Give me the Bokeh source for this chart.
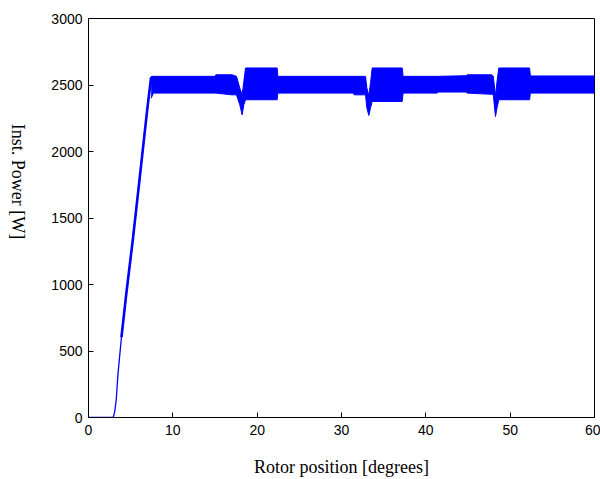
import math
from bokeh.plotting import figure
from bokeh.layouts import row
from bokeh.models import Range1d, Label, FixedTicker
from bokeh.embed import file_html
from bokeh.resources import INLINE

# Start-up ramp (rotor position in degrees, power in W)
ramp_x = [0.0, 2.93, 3.1, 3.28, 3.5, 3.91, 4.5, 5.25, 6.0, 6.96, 7.43]
ramp_y = [0, 0, 40, 128, 330, 605, 940, 1334, 1760, 2313, 2560]

# Envelope of the high-frequency ripple after the ramp
env_x = [7.43, 7.7, 15.0, 15.1, 17.0, 17.55, 17.94, 18.22, 18.42, 18.62,
         22.37, 22.45, 31.4, 31.5, 32.85, 33.0, 33.24, 33.45, 33.64, 37.2,
         37.3, 41.35, 41.45, 44.8, 44.9, 47.8, 48.0, 48.26, 48.45, 48.65,
         52.3, 52.4, 60.0]
env_upper = [2565, 2565, 2565, 2577, 2577, 2565, 2477, 2426, 2527, 2628,
             2628, 2565, 2565, 2565, 2565, 2480, 2420, 2520, 2628, 2628,
             2565, 2565, 2565, 2570, 2577, 2577, 2565, 2420, 2530, 2628,
             2628, 2568, 2568]
env_lower = [2400, 2439, 2439, 2439, 2426, 2426, 2351, 2276, 2351, 2389,
             2389, 2439, 2439, 2426, 2426, 2330, 2271, 2330, 2376, 2376,
             2439, 2439, 2447, 2447, 2439, 2430, 2426, 2263, 2330, 2389,
             2389, 2439, 2439]

x_ticks = [0, 10, 20, 30, 40, 50, 60]
y_ticks = [0, 500, 1000, 1500, 2000, 2500, 3000]

BLUE = "#0000FF"
LEFT_W = 34

p = figure(width=600 - LEFT_W, height=479, output_backend="svg",
           toolbar_location=None,
           x_range=Range1d(0, 60), y_range=Range1d(0, 3000),
           min_border_left=88 - LEFT_W, min_border_right=6, min_border_top=18,
           min_border_bottom=62)
p.xgrid.visible = False
p.ygrid.visible = False
p.outline_line_color = "black"
p.outline_line_width = 1
p.background_fill_color = "white"
p.border_fill_color = "white"

p.line(ramp_x, ramp_y, line_color=BLUE, line_width=1.3)
p.line(ramp_x[5:], ramp_y[5:], line_color=BLUE, line_width=2.6)
p.varea(x=env_x, y1=env_lower, y2=env_upper, fill_color=BLUE)
p.line(env_x, env_upper, line_color=BLUE, line_width=1)
p.line(env_x, env_lower, line_color=BLUE, line_width=1)

for ax, ticks in ((p.xaxis[0], x_ticks), (p.yaxis[0], y_ticks)):
    ax.ticker = FixedTicker(ticks=ticks)
    ax.minor_tick_line_color = None
    ax.major_tick_in = 5
    ax.major_tick_out = 0
    ax.major_tick_line_color = "black"
    ax.axis_line_color = "black"
    ax.major_label_text_font = "Liberation Sans"
    ax.major_label_text_font_size = "14px"
    ax.major_label_text_color = "black"

p.xaxis.major_label_standoff = 7
p.yaxis.major_label_standoff = 6
p.xaxis.axis_label = "Rotor position [degrees]"
p.xaxis.axis_label_text_font = "Liberation Serif"
p.xaxis.axis_label_text_font_size = "18px"
p.xaxis.axis_label_text_font_style = "normal"
p.xaxis.axis_label_text_color = "black"
p.xaxis.axis_label_standoff = 19

# Narrow strip on the left holding the rotated y-axis title
side = figure(width=LEFT_W, height=479, output_backend="svg",
              toolbar_location=None, x_range=Range1d(0, 1),
              y_range=Range1d(0, 1), min_border=0,
              min_border_left=0, min_border_right=0, min_border_top=0,
              min_border_bottom=0)
side.axis.visible = False
side.grid.visible = False
side.outline_line_color = None
side.background_fill_color = "white"
side.border_fill_color = "white"
side.add_layout(Label(x=17, y=236, x_units="screen", y_units="screen",
                      text="Inst. Power [W]", angle=-math.pi / 2,
                      text_font="Liberation Serif", text_font_size="18px",
                      text_color="black", text_align="center",
                      text_baseline="middle"))

layout = row(side, p, spacing=0)
open("out.html", "w").write(file_html(layout, INLINE))
